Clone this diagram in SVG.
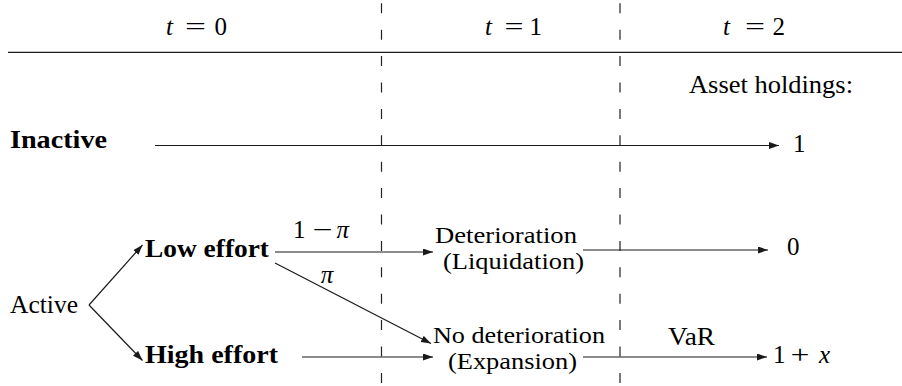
<svg xmlns="http://www.w3.org/2000/svg" width="902" height="386" viewBox="0 0 902 386">
<style>
text{font-family:"Liberation Serif","Times New Roman",serif;font-size:25px;fill:#000}
.b{font-weight:bold;font-size:25px}
.i{font-style:italic}
.s{font-size:23px}
.ln{stroke:#1a1a1a;stroke-width:1.2;fill:none}
.ar{stroke:#1a1a1a;stroke-width:1.2;fill:none;marker-end:url(#ah)}
.dash{stroke:#222;stroke-width:1.2;stroke-dasharray:10 16.4;fill:none}
</style>
<defs>
<marker id="ah" markerUnits="userSpaceOnUse" markerWidth="11" markerHeight="8" refX="10" refY="3.5" orient="auto">
<path d="M0,0 L10,3.5 L0,7 z" fill="#1a1a1a"/>
</marker>
</defs>
<rect width="902" height="386" fill="#fff"/>
<g id="timeline">
<line class="ln" x1="8" y1="52.3" x2="902" y2="52.3"/>
<line class="dash" x1="381.5" y1="3.3" x2="381.5" y2="386"/>
<line class="dash" x1="620" y1="3.3" x2="620" y2="386"/>
</g>
<g id="header-t0"><text x="166" y="35" class="i">t</text><text x="195.5" y="35" text-anchor="middle" textLength="21" lengthAdjust="spacingAndGlyphs">=</text><text x="227" y="35" text-anchor="end">0</text></g>
<g id="header-t1"><text x="485" y="35" class="i">t</text><text x="514" y="35" text-anchor="middle" textLength="19" lengthAdjust="spacingAndGlyphs">=</text><text x="542" y="35" text-anchor="end">1</text></g>
<g id="header-t2"><text x="723" y="35" class="i">t</text><text x="755" y="35" text-anchor="middle" textLength="20" lengthAdjust="spacingAndGlyphs">=</text><text x="785" y="35" text-anchor="end">2</text></g>
<g id="asset-label"><text x="689" y="93" textLength="164" lengthAdjust="spacingAndGlyphs">Asset holdings:</text></g>
<g id="inactive"><text class="b" x="10" y="148" textLength="97" lengthAdjust="spacingAndGlyphs">Inactive</text></g>
<g id="active"><text x="10" y="313" textLength="68" lengthAdjust="spacingAndGlyphs">Active</text></g>
<g id="low-effort"><text class="b" x="145" y="257" textLength="124" lengthAdjust="spacingAndGlyphs">Low effort</text></g>
<g id="high-effort"><text class="b" x="145" y="363" textLength="133" lengthAdjust="spacingAndGlyphs">High effort</text></g>
<g id="deterioration"><text class="s" x="435" y="243" textLength="142" lengthAdjust="spacingAndGlyphs">Deterioration</text><text class="s" x="443" y="269" textLength="141" lengthAdjust="spacingAndGlyphs">(Liquidation)</text></g>
<g id="no-deterioration"><text class="s" x="433" y="343" textLength="172" lengthAdjust="spacingAndGlyphs">No deterioration</text><text class="s" x="448" y="369" textLength="129" lengthAdjust="spacingAndGlyphs">(Expansion)</text></g>
<g id="out-1"><text x="793" y="152">1</text></g>
<g id="out-0"><text x="787" y="255">0</text></g>
<g id="out-1x"><text x="773" y="363">1</text><text x="800" y="363" text-anchor="middle" textLength="19" lengthAdjust="spacingAndGlyphs">+</text><text x="830" y="363" text-anchor="end" class="i">x</text></g>
<g id="connectors">
<line class="ar" x1="155" y1="145.5" x2="779" y2="145.5"/>
<line class="ar" x1="89" y1="305" x2="142.5" y2="245"/>
<line class="ar" x1="89" y1="305" x2="142.5" y2="360.5"/>
<line class="ar" x1="275" y1="252" x2="433" y2="252"/>
<line class="ar" x1="275" y1="263" x2="431" y2="343.5"/>
<line class="ar" x1="302" y1="357" x2="433" y2="357"/>
<line class="ar" x1="583" y1="250" x2="768" y2="250"/>
<line class="ar" x1="583" y1="357" x2="767" y2="357"/>
<g id="edge-labels">
<text x="293" y="238">1</text><text x="322.5" y="238" text-anchor="middle" textLength="20" lengthAdjust="spacingAndGlyphs">−</text><text x="349" y="238" text-anchor="end" class="i">π</text>
<text x="327" y="283" text-anchor="middle" class="i">π</text>
<text x="668" y="345" textLength="47" lengthAdjust="spacingAndGlyphs">VaR</text>
</g>
</g>
</svg>
